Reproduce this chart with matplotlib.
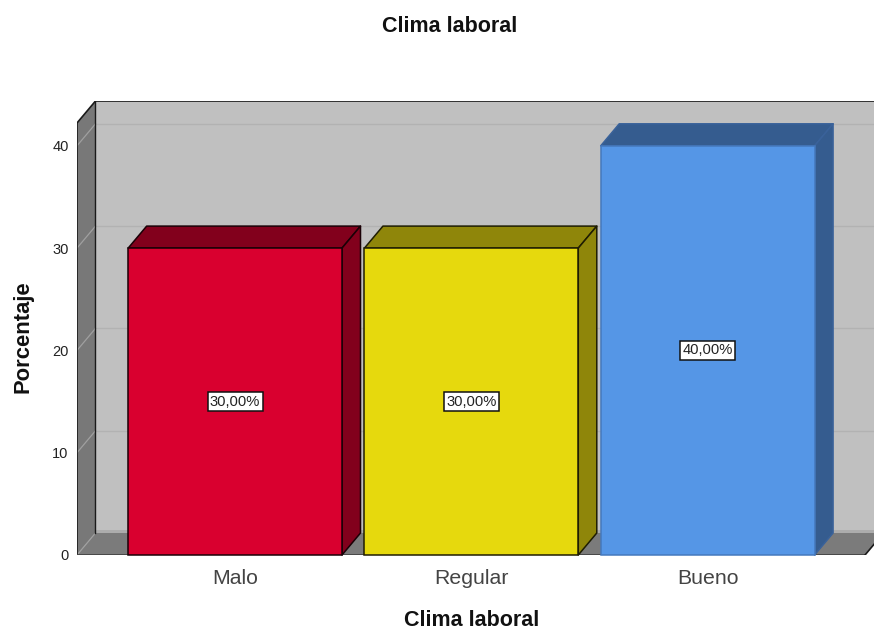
import matplotlib
matplotlib.use('Agg')
import matplotlib.pyplot as plt
from matplotlib.patches import Polygon

plt.rcParams['font.family'] = ['Liberation Sans', 'DejaVu Sans']

categories = ['Malo', 'Regular', 'Bueno']
values = [30, 30, 40]
value_labels = ['30,00%', '30,00%', '40,00%']
front_colors = ['#D9002F', '#E6D90D', '#5596E6']
shade_colors = ['#82001C', '#8F860A', '#355C8F']
edge_colors = ['#1A0006', '#1F1D02', '#4579BD']
y_ticks = [0, 10, 20, 30, 40]

W, H = 874, 631
fig = plt.figure(figsize=(W / 100, H / 100), dpi=100)
# Axes run from the front-left corner of the box to the right border
ax = fig.add_axes([77 / W, (H - 555) / H, (W - 77) / W, (555 - 101) / H])
x_min, x_max = -0.669, 2.704
y_max = 44.38
ax.set_xlim(x_min, x_max)
ax.set_ylim(0, y_max)

# Depth of the fake 3D box, in data units
dx = 18.5 / 236.3
dy = 22 / 10.23
bar_w = 0.905
front_top = y_max - dy
front_right = 2.666


def poly(pts, fc, ec='none', lw=0, z=1):
    ax.add_patch(Polygon(pts, closed=True, facecolor=fc, edgecolor=ec, linewidth=lw,
                         zorder=z, clip_on=False, joinstyle='round'))


# Back wall, floor and left wall
poly([(x_min + dx, dy), (x_max + 1, dy), (x_max + 1, y_max), (x_min + dx, y_max)], '#C0C0C0')
poly([(x_min + dx, dy), (x_max, dy), (x_max, dy + 0.25), (x_min + dx, dy + 0.25)], '#ACACAC', z=1.1)
poly([(x_min, 0), (front_right, 0), (front_right + dx, dy), (x_min + dx, dy)], '#7B7B7B', z=1.2)
poly([(x_min, 0), (x_min + dx, dy), (x_min + dx, y_max), (x_min, front_top)], '#787878', z=1.2)

# Grid lines on both walls
for t in y_ticks:
    if t > 0:
        ax.plot([x_min + dx, x_max], [t + dy, t + dy], color='#B2B2B2', lw=1.0, zorder=1.5)
    ax.plot([x_min, x_min + dx], [t, t + dy], color='#A0A0A0', lw=0.9, zorder=1.5)

# Box outline
ax.plot([x_min, x_min, x_min + dx, x_max], [0, front_top, y_max, y_max], color='#1A1A1A', lw=1.2, zorder=1.8)
ax.plot([x_min + dx, x_min + dx], [dy, y_max], color='#1A1A1A', lw=1.0, zorder=1.8)
ax.plot([x_min, front_right], [0, 0], color='#444444', lw=1.3, zorder=1.8)
ax.plot([front_right, x_max], [0, (x_max - front_right) / dx * dy], color='#1A1A1A', lw=1.2, zorder=1.8)

# Bars: front face from ax.bar, then top and side faces
positions = list(range(len(categories)))
for x, v, fc, sc, ec in zip(positions, values, front_colors, shade_colors, edge_colors):
    l, r = x - bar_w / 2, x + bar_w / 2
    side_ec = '#3A629A' if ec == '#4579BD' else ec
    poly([(l, v), (r, v), (r + dx, v + dy), (l + dx, v + dy)], sc, side_ec, 1.1, z=2)
    poly([(r, 0), (r + dx, dy), (r + dx, v + dy), (r, v)], sc, side_ec, 1.1, z=2)
    ax.bar(x, v, width=bar_w, color=fc, edgecolor=ec, linewidth=1.1, zorder=3, clip_on=False)

for x, v, lab in zip(positions, values, value_labels):
    ax.text(x, v / 2, lab, ha='center', va='center', fontsize=10.6, color='#222222', zorder=5,
            bbox=dict(boxstyle='square,pad=0.16', facecolor='white', edgecolor='#111111', linewidth=1.1))

ax.set_xticks(positions)
ax.set_xticklabels(categories, fontsize=15.3, color='#444444')
ax.set_yticks(y_ticks)
ax.set_yticklabels([str(t) for t in y_ticks], fontsize=10.5, color='#222222')
ax.tick_params(axis='x', length=0, pad=10)
ax.tick_params(axis='y', length=0, pad=6)
for s in ax.spines.values():
    s.set_visible(False)
ax.patch.set_visible(False)

fig.text(450 / W, 1 - 26 / H, 'Clima laboral', ha='center', va='center', fontsize=15.5, fontweight='bold', color='#111111')
fig.text(471.5 / W, 1 - 621 / H, 'Clima laboral', ha='center', va='center', fontsize=15.5, fontweight='bold', color='#111111')
fig.text(23 / W, 1 - 337 / H, 'Porcentaje', ha='center', va='center', rotation=90, fontsize=15.8, fontweight='bold', color='#111111')

fig.savefig('out.png', dpi=100)
